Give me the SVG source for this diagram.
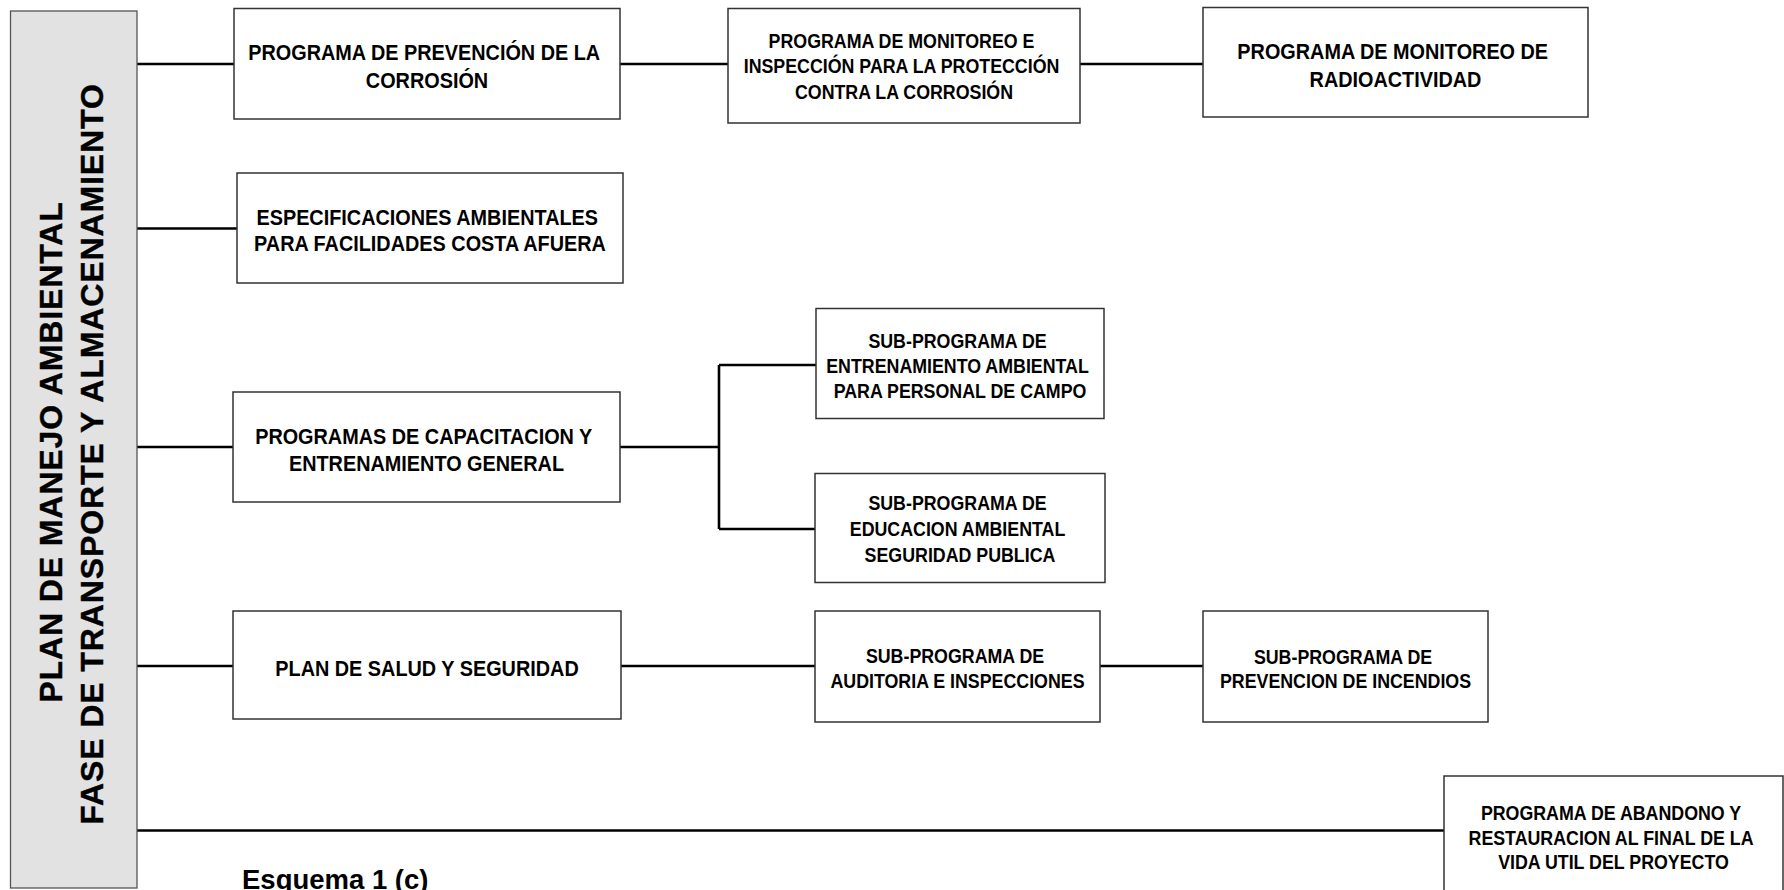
<svg xmlns="http://www.w3.org/2000/svg" width="1784" height="890" viewBox="0 0 1784 890">
  <style>
    .box { fill: #ffffff; stroke: #333333; stroke-width: 1.5; }
    .panel { fill: #e2e2e2; stroke: #555555; stroke-width: 1.3; }
    .conn { fill: none; stroke: #000000; stroke-width: 2.6; }
    text { font-family: "Liberation Sans", Arial, sans-serif; font-weight: bold; fill: #000000; }
    .big { font-size: 22.3px; text-anchor: middle; }
    .small { font-size: 20px; text-anchor: middle; }
    .side { font-size: 32px; letter-spacing: 0.9px; text-anchor: middle; stroke: #000000; stroke-width: 0.4; }
    .caption { font-size: 27.5px; }
  </style>

  <rect width="1784" height="890" fill="#ffffff"/>

  <!-- connectors -->
  <g id="connectors">
    <path class="conn" d="M137 64 H234 M620 64 H728 M1080 64 H1203"/>
    <path class="conn" d="M137 228.5 H237"/>
    <path class="conn" d="M137 447 H233 M620 447 H719 M719 365 V529 M719 365 H816 M719 529 H815"/>
    <path class="conn" d="M137 666 H233 M621 666 H815 M1100 666 H1203"/>
    <path class="conn" d="M137 830.5 H1444"/>
  </g>

  <!-- side panel with plan title -->
  <g id="plan">
    <rect class="panel" x="10.5" y="11" width="126.5" height="877"/>
    <text class="side" transform="translate(62 452) rotate(-90)">PLAN DE MANEJO AMBIENTAL</text>
    <text class="side" transform="translate(103 454) rotate(-90)">FASE DE TRANSPORTE Y ALMACENAMIENTO</text>
  </g>

  <g id="prevencion-corrosion">
    <rect class="box" x="234" y="8.5" width="386" height="110.5"/>
    <text class="big" transform="translate(427 0) scale(0.89 1)">
      <tspan x="0" y="60.3">PROGRAMA DE PREVENCIÓN DE LA</tspan>
      <tspan x="0" y="87.6">CORROSIÓN</tspan>
    </text>
  </g>

  <g id="monitoreo-corrosion">
    <rect class="box" x="728" y="8.5" width="352" height="114.5"/>
    <text class="small" transform="translate(904 0) scale(0.89 1)">
      <tspan x="0" y="48">PROGRAMA DE MONITOREO E</tspan>
      <tspan x="0" y="73.5">INSPECCIÓN PARA LA PROTECCIÓN</tspan>
      <tspan x="0" y="99">CONTRA LA CORROSIÓN</tspan>
    </text>
  </g>

  <g id="radioactividad">
    <rect class="box" x="1203" y="7.5" width="385" height="109.5"/>
    <text class="big" transform="translate(1395.5 0) scale(0.89 1)">
      <tspan x="0" y="59.5">PROGRAMA DE MONITOREO DE</tspan>
      <tspan x="0" y="87">RADIOACTIVIDAD</tspan>
    </text>
  </g>

  <g id="especificaciones">
    <rect class="box" x="237" y="173" width="386" height="110"/>
    <text class="big" transform="translate(430 0) scale(0.89 1)">
      <tspan x="0" y="225.3">ESPECIFICACIONES AMBIENTALES</tspan>
      <tspan x="0" y="251.5">PARA FACILIDADES COSTA AFUERA</tspan>
    </text>
  </g>

  <g id="capacitacion">
    <rect class="box" x="233" y="392" width="387" height="110"/>
    <text class="big" transform="translate(426.5 0) scale(0.89 1)">
      <tspan x="0" y="443.8">PROGRAMAS DE CAPACITACION Y</tspan>
      <tspan x="0" y="471">ENTRENAMIENTO GENERAL</tspan>
    </text>
  </g>

  <g id="entrenamiento-ambiental">
    <rect class="box" x="816" y="308.5" width="288" height="110"/>
    <text class="small" transform="translate(960 0) scale(0.89 1)">
      <tspan x="0" y="348">SUB-PROGRAMA DE</tspan>
      <tspan x="0" y="373">ENTRENAMIENTO AMBIENTAL</tspan>
      <tspan x="0" y="398">PARA PERSONAL DE CAMPO</tspan>
    </text>
  </g>

  <g id="educacion-ambiental">
    <rect class="box" x="815" y="473.5" width="290" height="109"/>
    <text class="small" transform="translate(960 0) scale(0.89 1)">
      <tspan x="0" y="510">SUB-PROGRAMA DE</tspan>
      <tspan x="0" y="536">EDUCACION AMBIENTAL</tspan>
      <tspan x="0" y="562">SEGURIDAD PUBLICA</tspan>
    </text>
  </g>

  <g id="salud-seguridad">
    <rect class="box" x="233" y="611" width="388" height="108"/>
    <text class="big" transform="translate(427 0) scale(0.89 1)">
      <tspan x="0" y="676">PLAN DE SALUD Y SEGURIDAD</tspan>
    </text>
  </g>

  <g id="auditoria">
    <rect class="box" x="815" y="611" width="285" height="111"/>
    <text class="small" transform="translate(957.5 0) scale(0.89 1)">
      <tspan x="0" y="663">SUB-PROGRAMA DE</tspan>
      <tspan x="0" y="688">AUDITORIA E INSPECCIONES</tspan>
    </text>
  </g>

  <g id="incendios">
    <rect class="box" x="1203" y="611" width="285" height="111"/>
    <text class="small" transform="translate(1345.5 0) scale(0.89 1)">
      <tspan x="0" y="664">SUB-PROGRAMA DE</tspan>
      <tspan x="0" y="688">PREVENCION DE INCENDIOS</tspan>
    </text>
  </g>

  <g id="abandono">
    <rect class="box" x="1444" y="776" width="339" height="130"/>
    <text class="small" transform="translate(1613.5 0) scale(0.89 1)">
      <tspan x="0" y="820">PROGRAMA DE ABANDONO Y</tspan>
      <tspan x="0" y="845">RESTAURACION AL FINAL DE LA</tspan>
      <tspan x="0" y="869">VIDA UTIL DEL PROYECTO</tspan>
    </text>
  </g>

  <text class="caption" x="242" y="889">Esquema 1 (c)</text>
</svg>
